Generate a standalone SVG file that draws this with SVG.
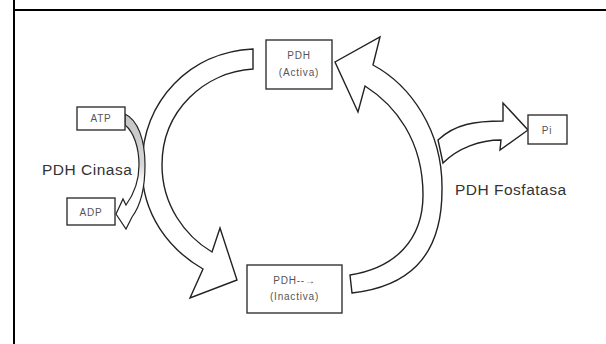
<svg xmlns="http://www.w3.org/2000/svg" width="606" height="344" viewBox="0 0 606 344">
<defs>
<linearGradient id="kg" x1="0" y1="0" x2="0" y2="1">
<stop offset="0" stop-color="#c4c4c4"/>
<stop offset="0.45" stop-color="#d8d8d8"/>
<stop offset="0.6" stop-color="#ffffff"/>
<stop offset="1" stop-color="#ffffff"/>
</linearGradient>
</defs>
<style>
.frame{stroke:#000;stroke-width:2;fill:none}
.arrow{fill:#fff;stroke:#222;stroke-width:1.4;stroke-linejoin:miter}
.box{fill:#fff;stroke:#333;stroke-width:1.4}
.bt{font-family:"Liberation Sans",Arial,sans-serif;font-size:10px;letter-spacing:0.8px;fill:#555;text-anchor:middle}
.lbl{font-family:"Liberation Sans",Arial,sans-serif;font-size:15.5px;letter-spacing:0.5px;fill:#333}
</style>
<rect width="606" height="344" fill="#fff"/>
<g id="frame">
<line class="frame" x1="14" y1="0" x2="14" y2="344"/>
<line class="frame" x1="14" y1="10" x2="606" y2="10"/>
</g>
<g id="connectors">
<path id="pi-branch" class="arrow" d="M438,140 C455,124 475,121 503,121 L503,103 L528,130 L500,150 L501,140 C480,140 458,148 443,163 Z"/>
<path id="kinase-to-inactiva" class="arrow" d="M253,49 C190,52 143,100 142,165 C141,215 170,250 203,269 L190,298 L237,280 L220,228 L212,252 C185,236 162,205 162,165 C162,110 205,72 253,69 Z"/>
<path id="phosphatase-to-activa" class="arrow" d="M352,293 C405,287 442,260 442,190 C443,130 410,85 373,65 L380,37 L335,62 L358,112 L365,86 C395,105 423,140 423,195 C423,240 395,268 350,275 Z"/>
<path id="atp-adp" d="M125,114 C138,120 145,140 145,165 C145,188 141,205 132,217 L126,229 L116,214 L123,199 L126,205 C134,194 139,180 139,165 C139,148 134,132 125,125 Z" fill="url(#kg)" stroke="#222" stroke-width="1.2"/>
</g>
<g id="node-activa">
<rect class="box" x="266" y="40" width="66" height="49"/>
<text class="bt" x="299" y="59">PDH</text>
<text class="bt" x="299" y="76">(Activa)</text>
</g>
<g id="node-inactiva">
<rect class="box" x="247" y="265" width="95" height="48"/>
<text class="bt" x="294.5" y="284">PDH--→</text>
<text class="bt" x="294.5" y="300">(Inactiva)</text>
</g>
<g id="node-atp">
<rect class="box" x="77" y="107" width="48" height="23"/>
<text class="bt" x="101" y="122">ATP</text>
</g>
<g id="node-adp">
<rect class="box" x="67" y="198" width="48" height="27"/>
<text class="bt" x="91" y="216">ADP</text>
</g>
<g id="node-pi">
<rect class="box" x="528" y="115" width="39" height="29"/>
<text class="bt" x="547" y="134">Pi</text>
</g>
<g id="labels">
<text class="lbl" x="42" y="175">PDH Cinasa</text>
<text class="lbl" x="455" y="195">PDH Fosfatasa</text>
</g>
</svg>
